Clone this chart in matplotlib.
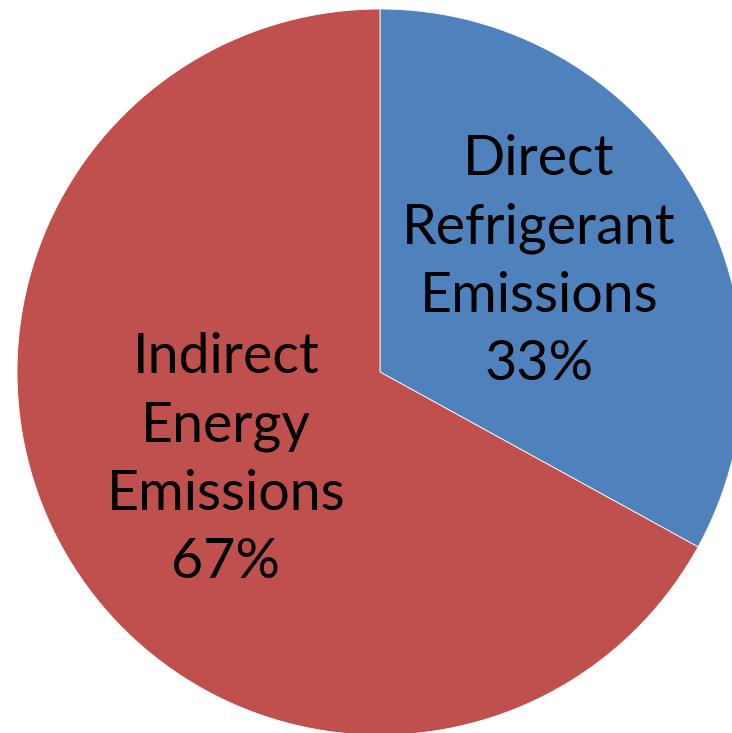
import matplotlib.pyplot as plt

labels = ['Direct\nRefrigerant\nEmissions', 'Indirect\nEnergy\nEmissions']
shares = [33, 67]
colors = ['#4F81BD', '#C0504D']

fig = plt.figure(figsize=(7.32, 7.33), dpi=100)
ax = fig.add_axes([0, 0, 1, 1])

# pie in pixel-like units so the circle can run off the right/bottom edge
cx, cy, r = 380, 733 - 372, 363
wedges, _ = ax.pie(shares, colors=colors, startangle=90, counterclock=False,
                   center=(cx, cy), radius=r,
                   wedgeprops=dict(edgecolor='white', linewidth=0.6))

# label each slice with its name and share
label_pos = [(539, 733 - 262), (226, 733 - 460)]
for lab, val, (x, y) in zip(labels, shares, label_pos):
    ax.text(x, y, lab + '\n' + str(val) + '%', ha='center', va='center',
            fontsize=40, family='Lato', linespacing=1.42, color='black')

ax.set_xlim(0, 732)
ax.set_ylim(0, 733)
ax.set_aspect('equal')
ax.axis('off')
fig.savefig('out.png', dpi=100)
